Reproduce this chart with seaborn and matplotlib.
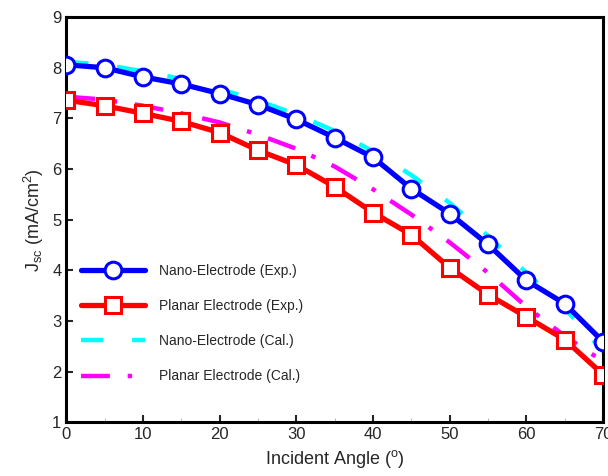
import numpy as np
import pandas as pd
import matplotlib
matplotlib.use("Agg")
import matplotlib.pyplot as plt
import seaborn as sns
from matplotlib.ticker import MultipleLocator

# ── data ────────────────────────────────────────────────────────────
angles = [0, 5, 10, 15, 20, 25, 30, 35, 40, 45, 50, 55, 60, 65, 70]
nano_exp = [8.06, 8.00, 7.82, 7.68, 7.49, 7.27, 6.98, 6.62, 6.23, 5.61, 5.12, 4.51, 3.80, 3.34, 2.59]
planar_exp = [7.36, 7.25, 7.10, 6.94, 6.72, 6.37, 6.08, 5.65, 5.14, 4.70, 4.05, 3.52, 3.08, 2.63, 1.94]
nano_cal = [8.12, 8.06, 7.93, 7.78, 7.58, 7.35, 7.08, 6.75, 6.35, 5.88, 5.33, 4.68, 3.95, 3.25, 2.40]
planar_cal = [7.43, 7.37, 7.25, 7.10, 6.92, 6.68, 6.40, 6.05, 5.60, 5.10, 4.55, 3.95, 3.28, 2.70, 2.20]

labels = ["Nano-Electrode (Exp.)", "Planar Electrode (Exp.)",
          "Nano-Electrode (Cal.)", "Planar Electrode (Cal.)"]

df = pd.DataFrame({"angle": angles, "nano_exp": nano_exp, "planar_exp": planar_exp,
                   "nano_cal": nano_cal, "planar_cal": planar_cal})

sns.set_theme(style="ticks")
plt.rcParams["font.family"] = ["Liberation Sans", "DejaVu Sans"]
plt.rcParams["mathtext.default"] = "regular"

fig = plt.figure(figsize=(6.08, 4.76), dpi=100)
ax = fig.add_axes([0.109, 0.113, 0.883, 0.851])

# calculated curves underneath
sns.lineplot(data=df, x="angle", y="nano_cal", ax=ax, color="#00ffff", lw=3.2,
             linestyle=(0, (5, 6.5)), label=labels[2], zorder=2)
sns.lineplot(data=df, x="angle", y="planar_cal", ax=ax, color="#ff00ff", lw=3.2,
             linestyle=(0, (6.5, 4, 1, 4)), label=labels[3], zorder=2)
# experimental curves on top
sns.lineplot(data=df, x="angle", y="nano_exp", ax=ax, color="#0000ff", lw=3.8,
             marker="o", ms=12, mfc="white", mec="#0000ff", mew=2.2,
             label=labels[0], zorder=3)
sns.lineplot(data=df, x="angle", y="planar_exp", ax=ax, color="#ff0000", lw=3.8,
             marker="s", ms=11, mfc="white", mec="#ff0000", mew=2.2,
             label=labels[1], zorder=3)

ax.set_xlim(0, 70)
ax.set_ylim(1, 9)
ax.xaxis.set_major_locator(MultipleLocator(10))
ax.xaxis.set_minor_locator(MultipleLocator(5))
ax.yaxis.set_major_locator(MultipleLocator(1))
ax.tick_params(which="major", direction="in", length=5, width=1.5, labelsize=12,
               top=False, right=False)
ax.tick_params(which="minor", direction="in", length=3, width=0.6, color="#aaaaaa")
for sp in ax.spines.values():
    sp.set_linewidth(2.2)
    sp.set_color("black")

ax.set_xlabel("Incident Angle ($^o$)", fontsize=13)
ax.set_ylabel("J$_{sc}$ (mA/cm$^2$)", fontsize=13)

h, l = ax.get_legend_handles_labels()
order = [l.index(s) for s in labels]
ax.legend([h[i] for i in order], [l[i] for i in order], loc="lower left",
          bbox_to_anchor=(0.004, 0.065), frameon=False, fontsize=10,
          handlelength=4.6, labelspacing=1.52, handletextpad=1.0)

fig.savefig("out.png", dpi=100)
